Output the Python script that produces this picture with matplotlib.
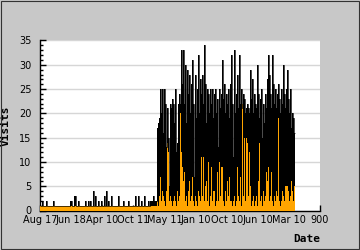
import numpy as np
import matplotlib
matplotlib.use('Agg')
import matplotlib.pyplot as plt
from matplotlib.ticker import MultipleLocator
from matplotlib.patches import Rectangle

# Daily visits, binned (one bin ~ one pixel of the original chart)
visits_early = [
    1, 1, 2, 1, 1, 1, 2, 1, 1, 1,
    1, 1, 1, 2, 1, 1, 1, 1, 1, 1,
    1, 1, 1, 1, 1, 1, 1, 1, 1, 1,
    2, 2, 1, 1, 3, 3, 1, 1, 2, 1,
    1, 1, 1, 1, 1, 2, 1, 1, 2, 1,
    2, 1, 1, 4, 1, 3, 1, 1, 2, 1,
    1, 2, 1, 1, 3, 1, 4, 1, 2, 1,
    1, 3, 1, 1, 1, 1, 1, 1, 3, 1,
    1, 1, 1, 2, 1, 1, 1, 1, 2, 1,
    1, 1, 1, 1, 1, 3, 1, 1, 3, 1,
    1, 2, 1, 1, 3, 1, 1, 1, 2, 1,
    2, 2, 2, 3, 2, 2, 2,
]
visits_late = [
    17, 18, 19, 25, 20, 25, 16, 25, 22, 13,
    21, 15, 5, 22, 21, 23, 22, 18, 25, 12,
    14, 22, 24, 22, 33, 26, 33, 22, 30, 18,
    29, 24, 28, 20, 26, 31, 22, 7, 28, 19,
    25, 32, 20, 27, 24, 28, 22, 34, 26, 18,
    25, 24, 20, 25, 22, 25, 19, 24, 25, 20,
    23, 13, 25, 21, 24, 31, 23, 26, 20, 24,
    22, 25, 19, 26, 32, 22, 11, 33, 20, 24,
    28, 21, 32, 22, 25, 21, 24, 23, 20, 21,
    22, 21, 20, 29, 23, 27, 20, 24, 22, 21,
    30, 24, 19, 23, 25, 15, 22, 18, 24, 21,
    27, 32, 28, 24, 21, 32, 26, 22, 25, 21,
    24, 26, 23, 20, 25, 22, 30, 24, 21, 25,
    29, 23, 20, 25, 17, 20, 19, 16,
]
unique_early = [
    1, 1, 1, 1, 1, 1, 1, 1, 1, 1,
    1, 1, 1, 1, 1, 1, 1, 1, 1, 1,
    1, 1, 1, 1, 1, 1, 1, 1, 1, 1,
    1, 1, 1, 1, 1, 1, 1, 1, 1, 1,
    1, 1, 1, 1, 1, 1, 1, 1, 1, 1,
    1, 1, 1, 1, 1, 1, 1, 1, 1, 1,
    1, 1, 1, 1, 1, 1, 1, 1, 1, 1,
    1, 1, 1, 1, 1, 1, 1, 1, 1, 1,
    1, 1, 1, 1, 1, 1, 1, 1, 1, 1,
    1, 1, 1, 1, 1, 1, 1, 1, 1, 1,
    1, 1, 1, 1, 1, 1, 1, 1, 1, 1,
    1, 1, 1, 1, 1, 1, 1,
]
unique_late = [
    2, 1, 3, 7, 2, 4, 3, 2, 1, 4,
    14, 12, 2, 3, 2, 1, 2, 3, 2, 1,
    4, 2, 3, 20, 12, 9, 6, 8, 2, 3,
    1, 4, 6, 2, 3, 7, 2, 1, 3, 2,
    1, 4, 3, 2, 11, 3, 11, 2, 5, 6,
    2, 10, 1, 3, 9, 2, 4, 4, 1, 2,
    8, 2, 10, 3, 9, 9, 2, 1, 4, 2,
    6, 3, 7, 2, 2, 1, 2, 3, 1, 2,
    9, 3, 2, 7, 1, 22, 3, 15, 2, 15,
    14, 3, 12, 5, 1, 2, 3, 1, 2, 3,
    1, 6, 14, 2, 3, 1, 4, 2, 3, 8,
    6, 9, 2, 3, 8, 2, 1, 3, 2, 4,
    3, 19, 2, 1, 2, 4, 3, 2, 5, 5,
    5, 4, 2, 3, 6, 4, 2, 5,
]
tick_pos = [0, 100, 200, 300, 400, 500, 600, 700, 800, 900]
tick_labels = ['Aug 17', 'Jun 18', 'Apr 10', 'Oct 11', 'May 11',
               'Jan 10', 'Oct 10', 'Jun 10', 'Mar 10', '900']

visits = np.array(visits_early + visits_late)
unique = np.array(unique_early + unique_late)
bin_days = 900 / 280
edges = np.arange(len(visits) + 1) * bin_days

bg = '#c8c8c8'
fig = plt.figure(figsize=(3.6, 2.5), dpi=100, facecolor=bg)
ax = fig.add_axes([40 / 360, 1 - 210.5 / 250, 280 / 360, 170 / 250])
ax.set_facecolor('white')

ax.stairs(visits, edges, fill=True, color='black', lw=0, zorder=2)
ax.stairs(unique, edges, fill=True, color='#ffa500', lw=0, zorder=3)
ax.stairs(visits, edges, baseline=None, color='black', lw=0.5, zorder=4)

ax.set_xlim(0, 900)
ax.set_ylim(0, 35)
ax.set_yticks(np.arange(0, 36, 5))
ax.yaxis.set_minor_locator(MultipleLocator(1))
ax.set_xticks(tick_pos)
ax.set_xticklabels(tick_labels)
ax.yaxis.grid(True, color='#d6d6d6', lw=1)
ax.set_axisbelow(True)

for s in ['top', 'right']:
    ax.spines[s].set_visible(False)
for s in ['left', 'bottom']:
    ax.spines[s].set_color('black')
    ax.spines[s].set_linewidth(1)

ax.tick_params(axis='both', which='major', direction='in', length=4, width=1,
               colors='black', labelsize=7)
ax.tick_params(axis='y', which='major', pad=6)
ax.tick_params(axis='x', which='major', pad=3.5)
ax.tick_params(axis='y', which='minor', direction='in', length=2.5, width=1)
ax.tick_params(axis='x', which='minor', bottom=False)

ax.set_ylabel('Visits', family='DejaVu Sans Mono', weight='bold', fontsize=8, labelpad=6)
ax.set_xlabel('Date', family='DejaVu Sans Mono', weight='bold', fontsize=8,
              loc='right', labelpad=6)

# thin dark frame round the whole image (inset half a pixel so all sides show)
fig.patches.append(Rectangle((0.6 / 360, 0.6 / 250), 1 - 1.2 / 360, 1 - 1.2 / 250,
                             transform=fig.transFigure,
                             fill=False, edgecolor='#333333', lw=0.8))

fig.savefig('out.png', dpi=100, facecolor=bg)
